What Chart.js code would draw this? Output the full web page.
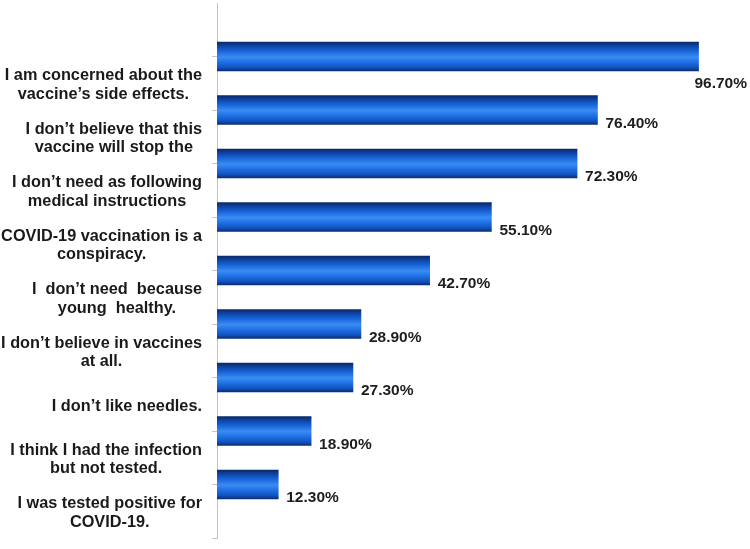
<!DOCTYPE html>
<html>
<head>
<meta charset="utf-8">
<script src="https://cdn.jsdelivr.net/npm/chart.js@4.4.1/dist/chart.umd.min.js"></script>
<style>
html,body{margin:0;padding:0;background:#fff;}
#wrap{width:750px;height:549px;}
</style>
</head>
<body>
<div id="wrap"><canvas id="c" width="750" height="549"></canvas></div>
<script>
const categories = [
  ["I am concerned about the", "vaccine\u2019s side effects."],
  ["I don\u2019t believe that this", "vaccine will stop the"],
  ["I don\u2019t need as following", "medical instructions"],
  ["COVID-19 vaccination is a", "conspiracy."],
  ["I  don\u2019t need  because", "young  healthy."],
  ["I don\u2019t believe in vaccines", "at all."],
  ["I don\u2019t like needles."],
  ["I think I had the infection", "but not tested."],
  ["I was tested positive for", "COVID-19."]
];
const values = [96.7, 76.4, 72.3, 55.1, 42.7, 28.9, 27.3, 18.9, 12.3];

const FONT = '"Liberation Sans", Arial, sans-serif';

function barGradient(context) {
  const chart = context.chart;
  const c = chart.ctx;
  if (!chart.chartArea || context.dataIndex === undefined) return '#1764dc';
  const yc = chart.scales.y.getPixelForValue(context.dataIndex + 1);
  const h = 14.5;
  const g = c.createLinearGradient(0, yc - h, 0, yc + h);
  g.addColorStop(0, '#0a2864');
  g.addColorStop(0.1, '#0d3d95');
  g.addColorStop(0.3, '#1662d8');
  g.addColorStop(0.52, '#3a8cf2');
  g.addColorStop(0.68, '#2072e8');
  g.addColorStop(0.88, '#1152be');
  g.addColorStop(1, '#0a2e72');
  return g;
}

const categoryLabelsPlugin = {
  id: 'catLabels',
  afterDraw(chart) {
    const c = chart.ctx;
    const s = chart.scales.yl;
    c.save();
    c.font = 'bold 16.3px ' + FONT;
    c.fillStyle = '#1a1a1a';
    c.textAlign = 'center';
    c.textBaseline = 'middle';
    const rightEdge = s.right - 15;
    const lh = 18.5;
    categories.forEach((lines, i) => {
      const yc = s.getPixelForValue(i + 1) + 2;
      let w = 0;
      lines.forEach(l => { w = Math.max(w, c.measureText(l).width); });
      const cx = rightEdge - w / 2;
      const y0 = yc - (lines.length - 1) * lh / 2;
      lines.forEach((l, j) => c.fillText(l, cx, y0 + j * lh));
    });
    c.restore();
  }
};

const valueLabelsPlugin = {
  id: 'valLabels',
  afterDatasetsDraw(chart) {
    const c = chart.ctx;
    const meta = chart.getDatasetMeta(0);
    c.save();
    c.font = 'bold 15.5px ' + FONT;
    c.fillStyle = '#1e1e1e';
    c.textAlign = 'left';
    c.textBaseline = 'middle';
    meta.data.forEach((el, i) => {
      const txt = values[i].toFixed(2) + '%';
      const w = c.measureText(txt).width;
      let x = el.x + 8;
      let y = el.y + 13.5;
      if (x + w > chart.width - 3) {
        x = chart.width - 3 - w;
        y = el.y + 27;
      }
      c.fillText(txt, x, y);
    });
    c.restore();
  }
};

new Chart(document.getElementById('c'), {
  type: 'bar',
  data: {
    datasets: [{
      data: values.map((v, i) => ({ x: v, y: i + 1 })),
      backgroundColor: barGradient,
      borderWidth: 0,
      barThickness: 29,
      xAxisID: 'x',
      yAxisID: 'y'
    }]
  },
  options: {
    indexAxis: 'y',
    responsive: false,
    animation: false,
    layout: { padding: { left: 0, right: 35, top: 3, bottom: 11 } },
    plugins: { legend: { display: false }, tooltip: { enabled: false } },
    scales: {
      x: { type: 'linear', min: 0, max: 100, display: false, offset: false },
      y: { type: 'linear', min: 0, max: 10, reverse: true, display: false, offset: false, grid: { offset: false } },
      yl: {
        type: 'category',
        position: 'left',
        labels: [''].concat(categories.map(l => l.join(' '))),
        offset: true,
        ticks: { display: false },
        grid: {
          display: true, drawOnChartArea: false, drawTicks: true, tickLength: 5, offset: true,
          color: (ctx) => ctx.index === 0 ? 'rgba(0,0,0,0)' : '#c4c4c4'
        },
        border: { display: true, color: '#c4c4c4', width: 1 },
        afterFit(s) { s.width = 217; }
      }
    }
  },
  plugins: [categoryLabelsPlugin, valueLabelsPlugin]
});
</script>
</body>
</html>
